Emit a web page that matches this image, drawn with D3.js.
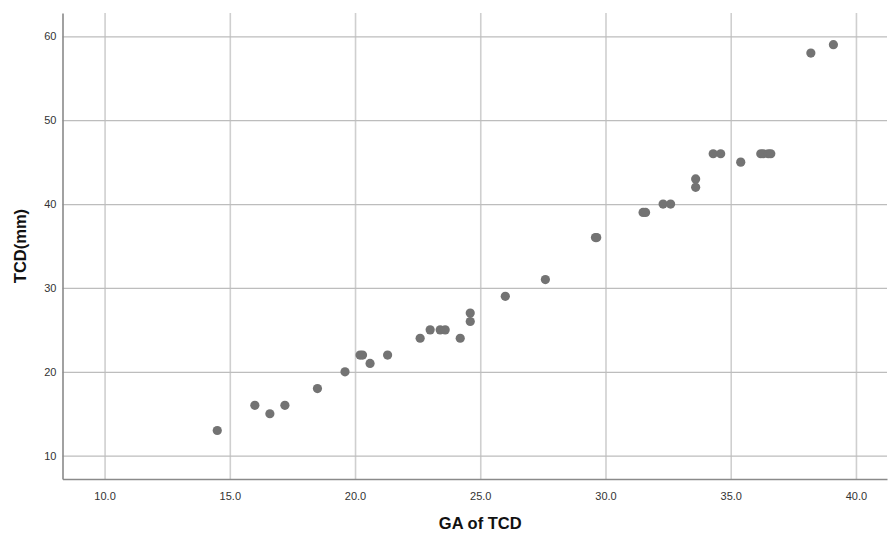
<!DOCTYPE html>
<html>
<head>
<meta charset="utf-8">
<script src="https://cdn.jsdelivr.net/npm/d3@7"></script>
<style>
  body { margin: 0; background: #fff; }
  svg { display: block; font-family: "Liberation Sans", Arial, sans-serif; }
</style>
</head>
<body>
<div id="chart"></div>
<script>
// GA of TCD (weeks) and TCD (mm)
var gaValues = [14.5, 16.0, 16.6, 17.2, 18.5, 19.6, 20.2, 20.3, 20.6, 21.3,
  22.6, 23.0, 23.4, 23.6, 24.2, 24.6, 24.6, 26.0, 27.6, 29.6, 29.65,
  31.5, 31.6, 32.3, 32.6, 33.6, 33.6, 34.3, 34.6, 35.4,
  36.2, 36.3, 36.5, 36.6, 38.2, 39.1];
var tcdValues = [13, 16, 15, 16, 18, 20, 22, 22, 21, 22,
  24, 25, 25, 25, 24, 27, 26, 29, 31, 36, 36,
  39, 39, 40, 40, 43, 42, 46, 46, 45,
  46, 46, 46, 46, 58, 59];
var xTicks = [10, 15, 20, 25, 30, 35, 40];
var yTicks = [10, 20, 30, 40, 50, 60];

var width = 888,
  height = 533,
  margin = {top: 13, right: 1, bottom: 54, left: 62.5};

var points = gaValues.map(function(d, i) { return {x: d, y: tcdValues[i]}; });

var x = d3.scaleLinear()
  .domain([8.32, 41.24])
  .range([margin.left, width - margin.right]);

var y = d3.scaleLinear()
  .domain([7.22, 62.78])
  .range([height - margin.bottom, margin.top]);

var svg = d3.select("#chart").append("svg")
  .attr("width", width)
  .attr("height", height);

// grid
svg.append("g")
  .attr("class", "grid-x")
  .attr("transform", "translate(0," + (height - margin.bottom) + ")")
  .call(d3.axisBottom(x).tickValues(xTicks)
    .tickSize(-(height - margin.top - margin.bottom)).tickFormat(""))
  .call(function(g) {
    g.select(".domain").remove();
    g.selectAll("line").attr("stroke", "#cfcfcf").attr("stroke-width", 1.6);
  });

svg.append("g")
  .attr("class", "grid-y")
  .attr("transform", "translate(" + margin.left + ",0)")
  .call(d3.axisLeft(y).tickValues(yTicks)
    .tickSize(-(width - margin.left - margin.right)).tickFormat(""))
  .call(function(g) {
    g.select(".domain").remove();
    g.selectAll("line").attr("stroke", "#bdbdbd").attr("stroke-width", 1.2);
  });

// axes
var xAxis = svg.append("g")
  .attr("transform", "translate(0," + (height - margin.bottom) + ")")
  .call(d3.axisBottom(x).tickValues(xTicks).tickSize(0).tickPadding(13)
    .tickFormat(d3.format(".1f")));

var yAxis = svg.append("g")
  .attr("transform", "translate(" + margin.left + ",0)")
  .call(d3.axisLeft(y).tickValues(yTicks).tickSize(0).tickPadding(6));

[xAxis, yAxis].forEach(function(g) {
  g.select(".domain").attr("stroke", "#8a8a8a").attr("stroke-width", 1.6);
  g.selectAll("text")
    .attr("fill", "#333")
    .style("font-size", "11px")
    .style("font-family", "'Liberation Sans', Arial, sans-serif");
});

// points
svg.append("g")
  .selectAll("circle")
  .data(points)
  .enter().append("circle")
  .attr("cx", function(d) { return x(d.x); })
  .attr("cy", function(d) { return y(d.y); })
  .attr("r", 4.6)
  .attr("fill", "#737373");

// axis titles
svg.append("text")
  .attr("x", x(25))
  .attr("y", 529)
  .attr("text-anchor", "middle")
  .style("font-size", "16.5px")
  .style("font-weight", "bold")
  .attr("fill", "#111")
  .text("GA of TCD");

svg.append("text")
  .attr("transform", "translate(26," + y(35) + ") rotate(-90)")
  .attr("text-anchor", "middle")
  .style("font-size", "16.5px")
  .style("font-weight", "bold")
  .attr("fill", "#111")
  .text("TCD(mm)");
</script>
</body>
</html>
